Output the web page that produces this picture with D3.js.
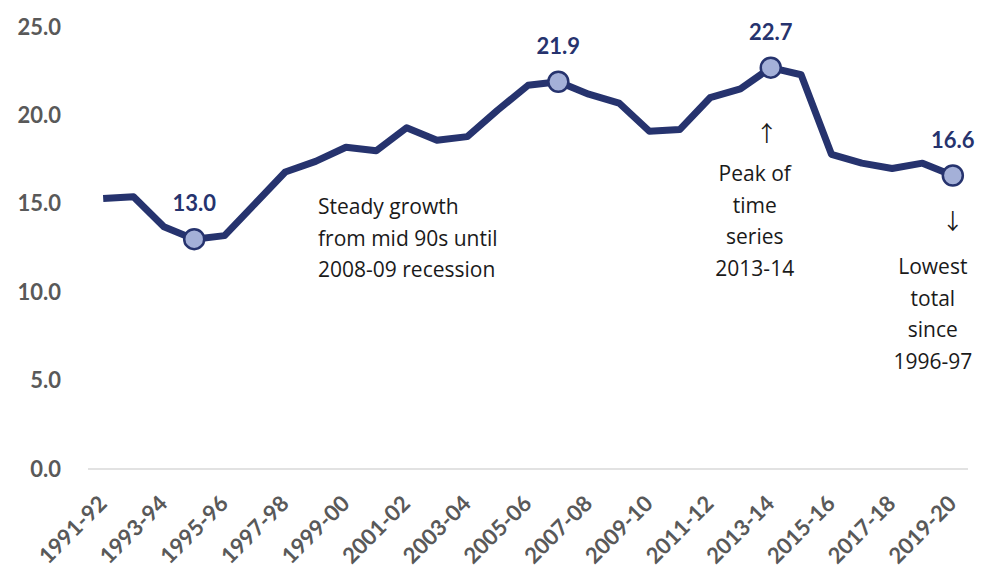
<!DOCTYPE html>
<html>
<head>
<meta charset="utf-8">
<script src="https://cdn.jsdelivr.net/npm/d3@7"></script>
<style>
  html, body { margin: 0; padding: 0; background: #fff; }
  svg { display: block; }
</style>
</head>
<body>
<svg id="chart" width="992" height="572"></svg>
<script>
const years = ["1991-92","1992-93","1993-94","1994-95","1995-96","1996-97","1997-98","1998-99","1999-00","2000-01",
  "2001-02","2002-03","2003-04","2004-05","2005-06","2006-07","2007-08","2008-09","2009-10","2010-11",
  "2011-12","2012-13","2013-14","2014-15","2015-16","2016-17","2017-18","2018-19","2019-20"];
const values = [15.3, 15.4, 13.7, 13.0, 13.2, 15.0, 16.8, 17.4, 18.2, 18.0,
  19.3, 18.6, 18.8, 20.3, 21.7, 21.9, 21.2, 20.7, 19.1, 19.2,
  21.0, 21.5, 22.7, 22.3, 17.8, 17.3, 17.0, 17.3, 16.6];
const highlighted = ["1994-95", "2006-07", "2013-14", "2019-20"];
const yTicks = [0, 5, 10, 15, 20, 25];
const xTickLabels = years.filter((d, i) => i % 2 === 0);
const annotationGrowth = ["Steady growth", "from mid 90s until", "2008-09 recession"];
const annotationPeak = ["Peak of", "time", "series", "2013-14"];
const annotationLow = ["Lowest", "total", "since", "1996-97"];

const svg = d3.select("#chart");
const margin = {left: 88, right: 24, top: 27, bottom: 103};
const W = 992, H = 572;

const x = d3.scaleBand().domain(years).range([margin.left, W - margin.right]);
const y = d3.scaleLinear().domain([0, 25]).range([H - margin.bottom, margin.top]);
const cx = d => x(d) + x.bandwidth() / 2;

const navy = "#26336e";
const gray = "#595959";
const font = "Lato, 'Open Sans', sans-serif";
const annFont = "'Open Sans', Lato, sans-serif";

// baseline gridline
svg.append("line")
  .attr("x1", margin.left).attr("x2", W - margin.right)
  .attr("y1", y(0)).attr("y2", y(0))
  .attr("stroke", "#d9d9d9").attr("stroke-width", 1.5);

// y axis
const yAxis = d3.axisLeft(y).tickValues(yTicks).tickFormat(d3.format(".1f")).tickSize(0).tickPadding(0);
const gy = svg.append("g").attr("transform", `translate(61,0)`).call(yAxis);
gy.select(".domain").remove();
gy.selectAll("text").attr("font-family", font).attr("font-weight", "bold")
  .attr("font-size", 22).attr("fill", gray);

// x axis
const xAxis = d3.axisBottom(x).tickValues(xTickLabels).tickSize(0).tickPadding(0);
const gx = svg.append("g").attr("transform", `translate(0,${y(0)})`).call(xAxis);
gx.select(".domain").remove();
gx.selectAll("text")
  .attr("font-family", font).attr("font-weight", "bold").attr("font-size", 22).attr("fill", gray)
  .attr("text-anchor", "end")
  .attr("dy", null).attr("y", 0)
  .attr("transform", "translate(5,36) rotate(-45)");

// line
const pts = years.map((d, i) => ({year: d, value: values[i]}));
const line = d3.line().x(d => cx(d.year)).y(d => y(d.value));
svg.append("path").datum(pts)
  .attr("d", line).attr("fill", "none")
  .attr("stroke", navy).attr("stroke-width", 7)
  .attr("stroke-linejoin", "round").attr("stroke-linecap", "butt");

// markers
const hp = pts.filter(d => highlighted.includes(d.year));
svg.selectAll("circle.mk").data(hp).join("circle")
  .attr("class", "mk")
  .attr("cx", d => cx(d.year)).attr("cy", d => y(d.value))
  .attr("r", 10).attr("fill", "#a4b0d8").attr("stroke", navy).attr("stroke-width", 2.5);

svg.selectAll("text.lbl").data(hp).join("text")
  .attr("class", "lbl")
  .attr("x", d => cx(d.year)).attr("y", d => y(d.value) - 28)
  .attr("text-anchor", "middle")
  .attr("font-family", font).attr("font-weight", "bold").attr("font-size", 22)
  .attr("fill", navy)
  .text(d => d.value.toFixed(1));

// annotations
function block(lines, xPos, yStart, anchor) {
  svg.append("g").selectAll("text").data(lines).join("text")
    .attr("x", xPos).attr("y", (d, i) => yStart + i * 31.5)
    .attr("text-anchor", anchor)
    .attr("font-family", annFont).attr("font-size", 21).attr("fill", "#1a1a1a")
    .text(d => d);
}
block(annotationGrowth, 318, 214, "start");
block(annotationPeak, cx("2013-14") - 16, 181, "middle");
block(annotationLow, cx("2019-20") - 20, 274, "middle");

svg.append("text").attr("x", cx("2013-14") - 4).attr("y", 141)
  .attr("text-anchor", "middle").attr("font-family", "'Noto Sans CJK SC', sans-serif")
  .attr("font-size", 22).attr("fill", "#1a1a1a").text("↑");
svg.append("text").attr("x", cx("2019-20")).attr("y", 229)
  .attr("text-anchor", "middle").attr("font-family", "'Noto Sans CJK SC', sans-serif")
  .attr("font-size", 22).attr("fill", "#1a1a1a").text("↓");
</script>
</body>
</html>
